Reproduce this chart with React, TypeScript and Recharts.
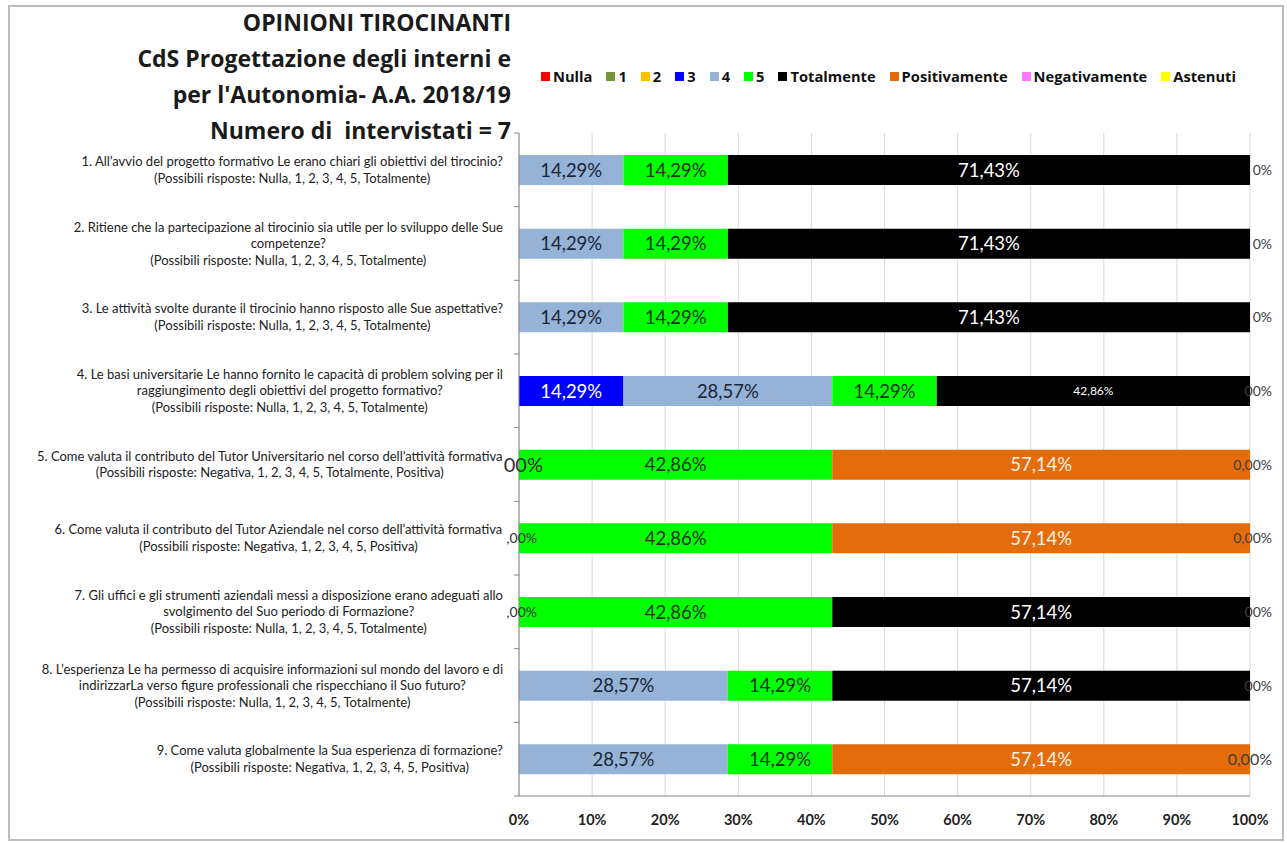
import { Bar, BarChart, CartesianGrid, LabelList, XAxis, YAxis } from "recharts";

const questions = [
  "1. All’avvio del progetto formativo Le erano chiari gli obiettivi del tirocinio?\n(Possibili risposte: Nulla, 1, 2, 3, 4, 5, Totalmente)",
  "2. Ritiene che la partecipazione al tirocinio sia utile per lo sviluppo delle Sue\ncompetenze?\n(Possibili risposte: Nulla, 1, 2, 3, 4, 5, Totalmente)",
  "3. Le attività svolte durante il tirocinio hanno risposto alle Sue aspettative?\n(Possibili risposte: Nulla, 1, 2, 3, 4, 5, Totalmente)",
  "4. Le basi universitarie Le hanno fornito le capacità di problem solving per il\nraggiungimento degli obiettivi del progetto formativo?\n(Possibili risposte: Nulla, 1, 2, 3, 4, 5, Totalmente)",
  "5. Come valuta il contributo del Tutor Universitario nel corso dell’attività formativa\n(Possibili risposte: Negativa, 1, 2, 3, 4, 5, Totalmente, Positiva)",
  "6. Come valuta il contributo del Tutor Aziendale nel corso dell’attività formativa\n(Possibili risposte: Negativa, 1, 2, 3, 4, 5, Positiva)",
  "7. Gli uffici e gli strumenti aziendali messi a disposizione erano adeguati allo\nsvolgimento del Suo periodo di Formazione?\n(Possibili risposte: Nulla, 1, 2, 3, 4, 5, Totalmente)",
  "8. L’esperienza Le ha permesso di acquisire informazioni sul mondo del lavoro e di\nindirizzarLa verso figure professionali che rispecchiano il Suo futuro?\n(Possibili risposte: Nulla, 1, 2, 3, 4, 5, Totalmente)",
  "9. Come valuta globalmente la Sua esperienza di formazione?\n(Possibili risposte: Negativa, 1, 2, 3, 4, 5, Positiva)",
];

// percentages per answer, one value per question
const nulla = [0, 0, 0, 0, 0, 0, 0, 0, 0];
const uno = [0, 0, 0, 0, 0, 0, 0, 0, 0];
const due = [0, 0, 0, 0, 0, 0, 0, 0, 0];
const tre = [0, 0, 0, 14.29, 0, 0, 0, 0, 0];
const quattro = [14.29, 14.29, 14.29, 28.57, 0, 0, 0, 28.57, 28.57];
const cinque = [14.29, 14.29, 14.29, 14.29, 42.86, 42.86, 42.86, 14.29, 14.29];
const totalmente = [71.43, 71.43, 71.43, 42.86, 0, 0, 57.14, 57.14, 0];
const positivamente = [0, 0, 0, 0, 57.14, 57.14, 0, 0, 57.14];
const negativamente = [0, 0, 0, 0, 0, 0, 0, 0, 0];
const astenuti = [0, 0, 0, 0, 0, 0, 0, 0, 0];

// zero-value labels that peek out at the ends of each bar
const rightZeroLabels = ["0%", "0%", "0%", "00%", "0,00%", "0,00%", "00%", "00%", "0,00%"];
const leftZeroLabels = ["", "", "", "", "00%", ",00%", ",00%", "", ""];

const xTicks = [0, 0.1, 0.2, 0.3, 0.4, 0.5, 0.6, 0.7, 0.8, 0.9, 1];

const titleLines = [
  "OPINIONI TIROCINANTI",
  "CdS Progettazione degli interni e",
  "per l'Autonomia- A.A. 2018/19",
  "Numero di  intervistati = 7",
];

const series = [
  { key: "nulla", name: "Nulla", values: nulla, color: "#FF0000", text: "#FFFFFF" },
  { key: "uno", name: "1", values: uno, color: "#77933C", text: "#FFFFFF" },
  { key: "due", name: "2", values: due, color: "#FFC000", text: "#222222" },
  { key: "tre", name: "3", values: tre, color: "#0000FF", text: "#FFFFFF" },
  { key: "quattro", name: "4", values: quattro, color: "#95B3D7", text: "#1B2536" },
  { key: "cinque", name: "5", values: cinque, color: "#00FF00", text: "#1A331A" },
  { key: "totalmente", name: "Totalmente", values: totalmente, color: "#000000", text: "#FFFFFF" },
  { key: "positivamente", name: "Positivamente", values: positivamente, color: "#E46C0A", text: "#FFF2E5" },
  { key: "negativamente", name: "Negativamente", values: negativamente, color: "#FF77FF", text: "#222222" },
  { key: "astenuti", name: "Astenuti", values: astenuti, color: "#FFFF00", text: "#222222" },
];

const data = questions.map((q, i) => {
  const row: Record<string, any> = { question: q };
  series.forEach((s) => (row[s.key] = s.values[i]));
  return row;
});

const W = 1287;
const H = 843;
const M = { top: 133, right: 37, bottom: 0, left: 0 };
const X_AXIS_H = 47;
const Y_AXIS_W = 519;
const BAND = (H - M.top - X_AXIS_H) / questions.length;
const FONT = "Lato, 'Open Sans', sans-serif";
const WIDE = "'Open Sans', Lato, sans-serif";

let ctx: CanvasRenderingContext2D | null = null;
function measure(text: string, font: string) {
  if (!ctx) ctx = document.createElement("canvas").getContext("2d");
  if (!ctx) return text.length * 6;
  ctx.font = font;
  return ctx.measureText(text).width;
}

const fmt = (v: number) => v.toFixed(2).replace(".", ",") + "%";

function firstKey(i: number) {
  return series.find((s) => s.values[i] > 0)?.key;
}
function lastKey(i: number) {
  const pos = series.filter((s) => s.values[i] > 0);
  return pos[pos.length - 1]?.key;
}

const makeLabel = (s: (typeof series)[number]) => (props: any) => {
  const x = Number(props.x);
  const y = Number(props.y);
  const w = Number(props.width);
  const h = Number(props.height);
  const cy = y + h / 2;
  // which question this bar belongs to
  const i = Math.round((cy - M.top - BAND / 2) / BAND);
  const v = s.values[i];
  if (v === undefined) return null;
  const parts: any[] = [];
  if (v > 0) {
    const small = s.key === "totalmente" && i === 3;
    parts.push(
      <text key="v" x={x + w / 2} y={cy} dy="0.36em" textAnchor="middle" fontSize={small ? 12 : 18.5} fill={s.text} fontFamily={FONT}>
        {fmt(v)}
      </text>
    );
  }
  if (lastKey(i) === s.key) {
    parts.push(
      <text key="r" x={x + w + 22} y={cy} dy="0.36em" textAnchor="end" fontSize={i === 8 ? 16 : 14} fill="#404040" fontFamily={FONT}>
        {rightZeroLabels[i]}
      </text>
    );
  }
  if (firstKey(i) === s.key && leftZeroLabels[i]) {
    parts.push(
      <text key="l" x={x + (i === 4 ? 24 : 18)} y={cy} dy="0.36em" textAnchor="end" fontSize={i === 4 ? 20 : 14} fill="#303030" fontFamily={FONT}>
        {leftZeroLabels[i]}
      </text>
    );
  }
  return <g>{parts}</g>;
};

const QuestionTick = (props: any) => {
  const { x, y, payload, index } = props;
  const lines = String(payload.value).split("\n");
  const size = 13;
  const font = `${size}px ${FONT}`;
  const widest = Math.max(...lines.map((l) => measure(l, font)));
  const right = x - 16;
  const cx = right - widest / 2;
  const lh = 16.5;
  const y0 = y - ((lines.length - 1) * lh) / 2;
  return (
    <g>
      <line x1={x - 5} x2={x} y1={y - BAND / 2} y2={y - BAND / 2} stroke="#868686" />
      {index === questions.length - 1 && <line x1={x - 5} x2={x} y1={y + BAND / 2} y2={y + BAND / 2} stroke="#868686" />}
      <text textAnchor="middle" fontSize={size} fill="#222" fontFamily={FONT}>
        {lines.map((l, k) => (
          <tspan key={k} x={cx} y={y0 + k * lh} dy="0.35em">
            {l}
          </tspan>
        ))}
      </text>
    </g>
  );
};

const PercentTick = (props: any) => {
  const { x, y, payload } = props;
  return (
    <text x={x} y={y + 29} textAnchor="middle" fontSize={14.5} fontWeight="bold" fill="#222" fontFamily={FONT}>
      {Math.round(payload.value * 100)}%
    </text>
  );
};

const LegendBox = () => (
  <div style={{ position: "absolute", left: 541, top: 67, display: "flex", gap: 14, fontFamily: WIDE, fontSize: 14.7, fontWeight: "bold", color: "#111", whiteSpace: "nowrap", lineHeight: "18px" }}>
    {series.map((s) => (
      <div key={s.key} style={{ display: "flex", alignItems: "center", gap: 3 }}>
        <span style={{ width: 9, height: 9, background: s.color, display: "inline-block" }} />
        <span>{s.name}</span>
      </div>
    ))}
  </div>
);

export default function App() {
  return (
    <div style={{ position: "absolute", left: 0, top: 0, width: W, height: H, background: "#fff" }}>
      <div style={{ position: "absolute", left: 8, top: 5, width: 1272, height: 832, border: "2px solid #BDBDBD" }} />
      <div style={{ position: "absolute", right: W - 511, top: 4, textAlign: "right", fontFamily: WIDE, fontWeight: "bold", fontSize: 23, lineHeight: "36px", color: "#1a1a1a", whiteSpace: "pre" }}>
        {titleLines.map((t) => (
          <div key={t}>{t}</div>
        ))}
      </div>
      <LegendBox />
      <BarChart width={W} height={H} data={data} layout="vertical" stackOffset="expand" margin={M} barSize={30} style={{ position: "absolute", left: 0, top: 0 }}>
        <CartesianGrid horizontal={false} stroke="#D9D9D9" />
        <XAxis type="number" domain={[0, 1]} ticks={xTicks} tick={<PercentTick />} tickLine={false} tickSize={0} tickMargin={0} axisLine={{ stroke: "#868686" }} height={X_AXIS_H} />
        <YAxis type="category" dataKey="question" width={Y_AXIS_W} tick={<QuestionTick />} tickLine={false} tickSize={0} tickMargin={0} axisLine={{ stroke: "#868686" }} interval={0} />
        {series.map((s) => (
          <Bar key={s.key} dataKey={s.key} name={s.name} stackId="a" fill={s.color} isAnimationActive={false}>
            <LabelList dataKey={s.key} content={makeLabel(s)} />
          </Bar>
        ))}
      </BarChart>
    </div>
  );
}
